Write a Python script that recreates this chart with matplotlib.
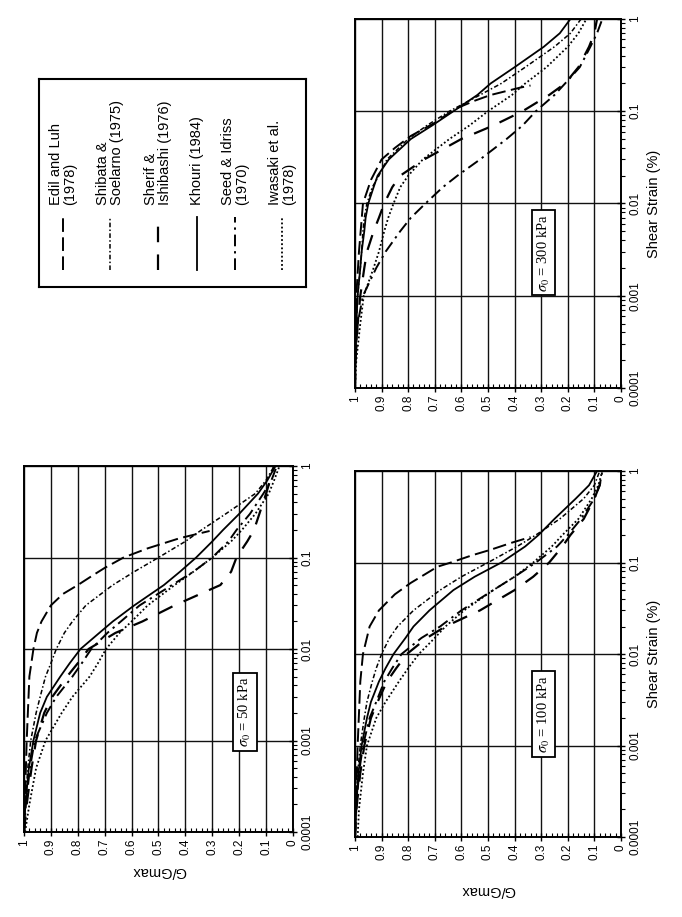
import matplotlib
matplotlib.use('Agg')
import matplotlib.pyplot as plt
from matplotlib.ticker import FixedLocator, LogLocator, MultipleLocator, NullFormatter, FuncFormatter

plt.rcParams['font.family'] = ['Liberation Sans', 'DejaVu Sans']
plt.rcParams['mathtext.fontset'] = 'stix'

# shared strain grid (%) for most curves
strain = [1e-4, 2e-4, 5e-4, 1e-3, 2e-3, 3e-3, 5e-3, 7e-3, 1e-2, 1.5e-2, 2e-2, 3e-2, 5e-2, 7e-2,
          0.1, 0.15, 0.2, 0.3, 0.5, 0.7, 1.0]

# sigma0 = 50 kPa
edil_50_s = [1e-4, 1e-3, 5e-3, 1e-2, 1.5e-2, 2e-2, 3e-2, 4e-2, 5e-2, 6.5e-2, 7.7e-2, 0.1, 0.126, 0.163, 0.195]
edil_50 = [1.0, 0.99, 0.98, 0.965, 0.952, 0.935, 0.90, 0.855, 0.80, 0.74, 0.70, 0.63, 0.54, 0.42, 0.31]
shibata_50 = [1.0, 0.995, 0.986, 0.975, 0.955, 0.94, 0.92, 0.90, 0.88, 0.85, 0.82, 0.77, 0.67, 0.59,
              0.50, 0.40, 0.34, 0.25, 0.14, 0.10, 0.07]
sherif_50 = [1.0, 0.99, 0.972, 0.955, 0.925, 0.895, 0.84, 0.80, 0.76, 0.66, 0.56, 0.44, 0.27, 0.23,
             0.21, 0.17, 0.145, 0.125, 0.10, 0.085, 0.07]
khouri_50 = [1.0, 0.995, 0.982, 0.965, 0.94, 0.915, 0.865, 0.83, 0.79, 0.72, 0.67, 0.59, 0.48, 0.42,
             0.36, 0.30, 0.26, 0.20, 0.13, 0.095, 0.065]
seed_50 = [1.0, 0.993, 0.978, 0.96, 0.915, 0.88, 0.82, 0.785, 0.75, 0.69, 0.64, 0.57, 0.45, 0.37,
           0.30, 0.24, 0.21, 0.16, 0.11, 0.08, 0.06]
iwasaki_50 = [0.996, 0.98, 0.955, 0.92, 0.86, 0.82, 0.756, 0.725, 0.695, 0.645, 0.60, 0.54, 0.44, 0.37,
              0.30, 0.23, 0.19, 0.14, 0.09, 0.07, 0.05]

# sigma0 = 100 kPa
edil_100_s = [1e-4, 1e-3, 5e-3, 1e-2, 2e-2, 3e-2, 4.5e-2, 6e-2, 9e-2, 0.1, 0.12, 0.138, 0.165, 0.19]
edil_100 = [1.0, 0.99, 0.98, 0.97, 0.945, 0.91, 0.85, 0.79, 0.69, 0.64, 0.56, 0.49, 0.41, 0.34]
shibata_100 = [1.0, 0.998, 0.99, 0.98, 0.965, 0.955, 0.935, 0.92, 0.90, 0.87, 0.84, 0.78, 0.68, 0.60,
               0.50, 0.39, 0.32, 0.23, 0.14, 0.10, 0.08]
sherif_100 = [1.0, 0.995, 0.98, 0.965, 0.94, 0.915, 0.88, 0.845, 0.805, 0.73, 0.66, 0.53, 0.40, 0.33,
              0.27, 0.22, 0.19, 0.14, 0.10, 0.08, 0.07]
khouri_100 = [1.0, 0.996, 0.987, 0.975, 0.955, 0.94, 0.91, 0.885, 0.855, 0.81, 0.78, 0.72, 0.63, 0.55,
              0.45, 0.36, 0.31, 0.25, 0.17, 0.12, 0.09]
seed_100 = [1.0, 0.995, 0.985, 0.97, 0.945, 0.92, 0.89, 0.86, 0.825, 0.75, 0.68, 0.60, 0.48, 0.40,
            0.32, 0.24, 0.20, 0.15, 0.10, 0.08, 0.07]
iwasaki_100 = [0.99, 0.985, 0.97, 0.955, 0.92, 0.885, 0.835, 0.80, 0.76, 0.70, 0.66, 0.59, 0.48, 0.40,
               0.33, 0.26, 0.22, 0.16, 0.11, 0.085, 0.07]

# sigma0 = 300 kPa
edil_300_s = [1e-4, 1e-3, 3e-3, 1e-2, 1.8e-2, 3e-2, 4e-2, 5.4e-2, 7.5e-2, 0.09, 0.11, 0.13, 0.15, 0.18, 0.19]
edil_300 = [1.0, 0.995, 0.985, 0.97, 0.94, 0.90, 0.85, 0.79, 0.70, 0.66, 0.61, 0.55, 0.49, 0.38, 0.34]
shibata_300 = [1.0, 0.999, 0.995, 0.99, 0.98, 0.975, 0.97, 0.965, 0.955, 0.935, 0.91, 0.88, 0.80, 0.73,
               0.645, 0.53, 0.45, 0.36, 0.25, 0.19, 0.15]
sherif_300 = [1.0, 0.998, 0.99, 0.98, 0.965, 0.955, 0.93, 0.91, 0.89, 0.86, 0.83, 0.74, 0.60, 0.48,
              0.37, 0.27, 0.21, 0.16, 0.12, 0.10, 0.09]
khouri_300 = [1.0, 0.999, 0.995, 0.99, 0.98, 0.975, 0.965, 0.96, 0.95, 0.93, 0.915, 0.873, 0.79, 0.71,
              0.63, 0.54, 0.49, 0.40, 0.29, 0.23, 0.19]
seed_300 = [1.0, 0.998, 0.99, 0.97, 0.92, 0.885, 0.83, 0.79, 0.735, 0.67, 0.615, 0.53, 0.43, 0.37,
            0.32, 0.25, 0.21, 0.155, 0.115, 0.09, 0.07]
iwasaki_300 = [1.0, 0.995, 0.98, 0.967, 0.93, 0.91, 0.89, 0.875, 0.855, 0.83, 0.80, 0.745, 0.645, 0.57,
               0.50, 0.41, 0.36, 0.28, 0.20, 0.16, 0.13]

labels = ['Edil and Luh\n(1978)', 'Shibata &\nSoelarno (1975)', 'Sherif &\nIshibashi (1976)',
          'Khouri (1984)', 'Seed & Idriss\n(1970)', 'Iwasaki et al.\n(1978)']
keys = ['edil', 'shibata', 'sherif', 'khouri', 'seed', 'iwasaki']

styles = {
    'edil': dict(color='k', lw=1.4, ls=(0, (7, 2.8))),
    'shibata': dict(color='k', lw=1.1, ls=(0, (3, 1.5, 1, 1.5))),
    'sherif': dict(color='k', lw=1.6, ls=(0, (7, 5.5))),
    'khouri': dict(color='k', lw=1.3, ls='-'),
    'seed': dict(color='k', lw=1.4, ls=(0, (6, 2.5, 1.2, 2.5))),
    'iwasaki': dict(color='k', lw=1.3, ls=(0, (1, 1.3))),
}

panels = [
    dict(pos=[0.0352, 0.0927, 0.3944, 0.3991], text=r'$\sigma_0$ = 50 kPa', box=(0.822, 0.329),
         glabel=True, slabel=False, gpad=6,
         curves={'edil': (edil_50_s, edil_50), 'shibata': (strain, shibata_50), 'sherif': (strain, sherif_50),
                 'khouri': (strain, khouri_50), 'seed': (strain, seed_50), 'iwasaki': (strain, iwasaki_50)}),
    dict(pos=[0.5205, 0.0872, 0.390, 0.3991], text=r'$\sigma_0$ = 100 kPa', box=(0.709, 0.336),
         glabel=True, slabel=True, gpad=16,
         curves={'edil': (edil_100_s, edil_100), 'shibata': (strain, shibata_100), 'sherif': (strain, sherif_100),
                 'khouri': (strain, khouri_100), 'seed': (strain, seed_100), 'iwasaki': (strain, iwasaki_100)}),
    dict(pos=[0.5205, 0.5769, 0.390, 0.4024], text=r'$\sigma_0$ = 300 kPa', box=(0.709, 0.367),
         glabel=False, slabel=True, gpad=4,
         curves={'edil': (edil_300_s, edil_300), 'shibata': (strain, shibata_300), 'sherif': (strain, sherif_300),
                 'khouri': (strain, khouri_300), 'seed': (strain, seed_300), 'iwasaki': (strain, iwasaki_300)}),
]

fig = plt.figure(figsize=(6.82, 9.17), dpi=100)

strain_ticks = [1e-4, 1e-3, 1e-2, 1e-1, 1]
strain_ticklabels = ['0.0001', '0.001', '0.01', '0.1', '1']

for p in panels:
    ax = fig.add_axes(p['pos'])
    for k in keys:
        s, g = p['curves'][k]
        ax.plot(g, s, **styles[k])
    ax.set_yscale('log')
    ax.set_ylim(1e-4, 1)
    ax.set_xlim(1, 0)

    ax.xaxis.set_major_locator(MultipleLocator(0.1))
    ax.xaxis.set_minor_locator(MultipleLocator(0.02))
    ax.xaxis.set_major_formatter(FuncFormatter(lambda v, pos: f'{v:.1f}'.rstrip('0').rstrip('.')))
    ax.tick_params(axis='x', which='major', direction='inout', length=6, width=1, labelsize=8.5,
                   labelrotation=90, pad=2)
    ax.tick_params(axis='x', which='minor', direction='in', length=3, width=0.8)

    ax.yaxis.tick_right()
    ax.yaxis.set_major_locator(FixedLocator(strain_ticks))
    ax.set_yticklabels(strain_ticklabels)
    ax.yaxis.set_minor_locator(LogLocator(base=10, subs=range(2, 10)))
    ax.yaxis.set_minor_formatter(NullFormatter())
    ax.tick_params(axis='y', which='major', direction='inout', length=6, width=1, labelsize=8.5,
                   labelrotation=90, pad=3)
    ax.tick_params(axis='y', which='minor', direction='out', length=3, width=0.8)
    for t in ax.get_yticklabels():
        t.set_va('center')

    ax.grid(True, which='major', color='#111111', lw=1.0)
    for sp in ax.spines.values():
        sp.set_linewidth(1.4)

    if p['glabel']:
        ax.set_xlabel('G/Gmax', fontsize=10.5, rotation=180, labelpad=p['gpad'])
    if p['slabel']:
        ax.yaxis.set_label_position('right')
        ax.set_ylabel('Shear Strain (%)', fontsize=10.5, labelpad=4)

    ax.text(p['box'][0], p['box'][1], p['text'], transform=ax.transAxes, rotation=90,
            ha='center', va='center', fontsize=10.5, family=['Liberation Serif', 'DejaVu Serif'],
            bbox=dict(boxstyle='square,pad=0.25', fc='white', ec='black', lw=1.3))

# legend box
lax = fig.add_axes([0.0572, 0.687, 0.3915, 0.2268])
lax.set_xlim(0, 1)
lax.set_ylim(0, 1)
lax.set_xticks([])
lax.set_yticks([])
for sp in lax.spines.values():
    sp.set_linewidth(1.5)
leg_x = [0.090, 0.266, 0.446, 0.592, 0.734, 0.910]
for x, k, lab in zip(leg_x, keys, labels):
    lax.plot([x, x], [0.082, 0.337], **styles[k])
    lax.text(x, 0.394, lab, rotation=90, ha='center', va='bottom', fontsize=10.5,
             multialignment='left', linespacing=1.0)

fig.savefig('out.png', dpi=100, facecolor='white')
